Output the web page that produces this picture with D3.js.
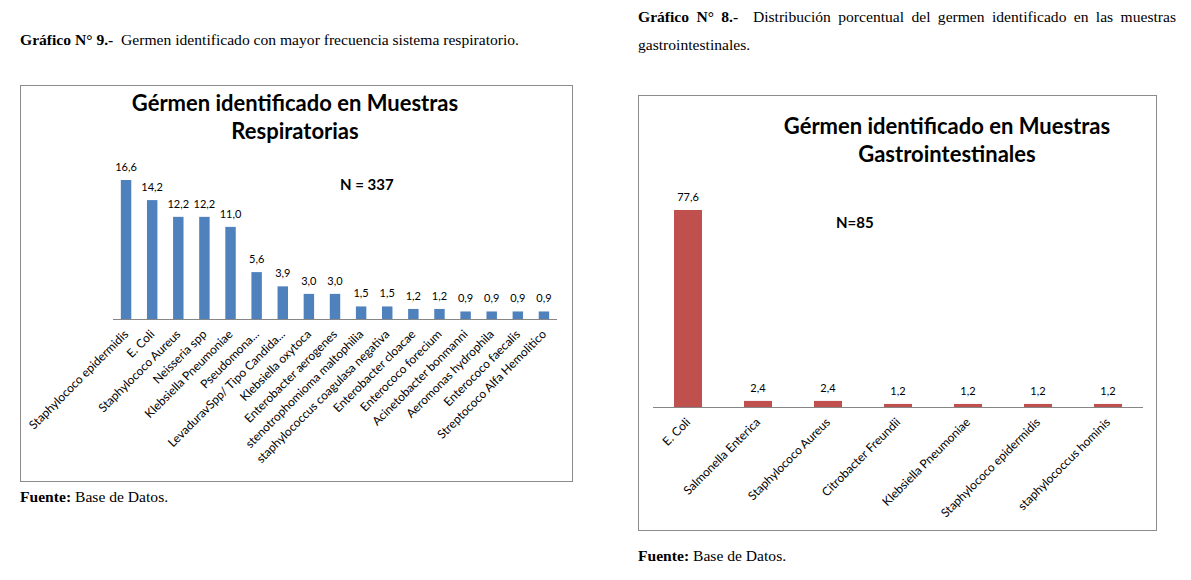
<!DOCTYPE html>
<html><head><meta charset="utf-8">
<script src="https://cdn.jsdelivr.net/npm/d3@7"></script>
<style>
body{margin:0;background:#fff;}
svg{display:block;}
</style></head>
<body>
<svg id="c" width="1191" height="580"></svg>
<script>
const respCategories = ["Staphylococo epidermidis","E. Coli","Staphylococo Aureus","Neisseria spp","Klebsiella Pneumoniae","Pseudomona...","LevaduravSpp/ Tipo Candida...","Klebsiella oxytoca","Enterobacter aerogenes","stenotrophomioma maltophilia","staphylococcus coagulasa negativa","Enterobacter cloacae","Enterococo forecium","Acinetobacter bonmanni","Aeromonas hydrophila","Enterococo faecalis","Streptococo Alfa Hemolitico"];
const respValues = [16.6,14.2,12.2,12.2,11.0,5.6,3.9,3.0,3.0,1.5,1.5,1.2,1.2,0.9,0.9,0.9,0.9];
const gastroCategories = ["E. Coli","Salmonella Enterica","Staphylococo Aureus","Citrobacter Freundii","Klebsiella Pneumoniae","Staphylococo epidermidis","staphylococcus hominis"];
const gastroValues = [77.6,2.4,2.4,1.2,1.2,1.2,1.2];

const svg = d3.select("#c");
const fmt = v => v.toFixed(1).replace(".", ",");
const chartFont = "Lato, 'Open Sans', sans-serif";
const serif = "'Liberation Serif', 'Times New Roman', serif";

function caption(x, y, bold, rest, justifyTo) {
  const t = svg.append("text").attr("x", x).attr("y", y)
    .style("font-family", serif).style("font-size", "15.6px").style("white-space", "pre").attr("fill", "#000");
  if (bold) t.append("tspan").style("font-weight", "bold").text(bold);
  t.append("tspan").text(rest);
  if (justifyTo) {
    const full = (bold || "") + rest;
    const spaces = (full.match(/ /g) || []).length;
    const len = t.node().getComputedTextLength();
    t.style("word-spacing", ((justifyTo - x - len) / spaces) + "px");
  }
}

function chart(o) {
  svg.append("rect").attr("x", o.box[0] + 0.5).attr("y", o.box[1] + 0.5)
    .attr("width", o.box[2]).attr("height", o.box[3])
    .attr("fill", "#fff").attr("stroke", "#8c8c8c").attr("stroke-width", 1);
  const x = d3.scaleBand().domain(o.cats).range([o.x0, o.x1]).paddingInner(o.pad).paddingOuter(o.pad / 2);
  const y = d3.scaleLinear().domain([0, o.ymax]).range([o.base, o.top]);
  const g = svg.append("g");
  g.selectAll("rect.bar").data(o.vals).join("rect").attr("class", "bar")
    .attr("x", (d, i) => x(o.cats[i])).attr("width", x.bandwidth())
    .attr("y", d => y(d)).attr("height", d => o.base - y(d)).attr("fill", o.color);
  g.selectAll("text.val").data(o.vals).join("text").attr("class", "val")
    .attr("x", (d, i) => x(o.cats[i]) + x.bandwidth() / 2).attr("y", d => y(d) - 9)
    .attr("text-anchor", "middle").style("font-family", chartFont).style("font-size", "11px")
    .attr("fill", "#000").text(fmt);
  const ax = g.append("g").attr("transform", `translate(0,${o.base})`)
    .call(d3.axisBottom(x).tickSize(0).tickPadding(0));
  ax.select(".domain").attr("stroke", "#868686").attr("d", `M${o.x0},0.5H${o.x1}`);
  ax.selectAll(".tick text").attr("transform", "translate(3,16) rotate(-45)")
    .attr("text-anchor", "end").attr("dy", 0).attr("dx", 0).attr("y", 0)
    .style("font-family", chartFont).style("font-size", o.labelSize).attr("fill", "#000");
  o.title.forEach((t, i) => {
    svg.append("text").attr("x", o.titleX).attr("y", o.titleY + i * 28).attr("text-anchor", "middle")
      .style("font-family", chartFont).style("font-weight", "bold").style("font-size", "22px")
      .attr("fill", "#000").text(t);
  });
  svg.append("text").attr("x", o.nPos[0]).attr("y", o.nPos[1])
    .style("font-family", chartFont).style("font-weight", "bold").style("font-size", "15px")
    .attr("fill", "#000").text(o.nText);
}

caption(20, 45, "Gráfico N° 9.-", "  Germen identificado con mayor frecuencia sistema respiratorio.");
caption(20, 502, "Fuente:", " Base de Datos.");
caption(638, 22, "Gráfico N° 8.-", "  Distribución porcentual del germen identificado en las muestras", 1176);
caption(638, 50, "", "gastrointestinales.");
caption(638, 561, "Fuente:", " Base de Datos.");

chart({box: [20, 85, 552, 396], cats: respCategories, vals: respValues, x0: 113, x1: 557, pad: 0.6,
  base: 319, top: 180, ymax: 16.6, color: "#4F81BD", labelSize: "12px",
  title: ["Gérmen identificado en Muestras", "Respiratorias"], titleX: 295, titleY: 111,
  nText: "N = 337", nPos: [340, 190]});

chart({box: [638, 95, 518, 435], cats: gastroCategories, vals: gastroValues, x0: 653, x1: 1143, pad: 0.6,
  base: 407, top: 210, ymax: 77.6, color: "#C0504D", labelSize: "12px",
  title: ["Gérmen identificado en Muestras", "Gastrointestinales"], titleX: 947, titleY: 134,
  nText: "N=85", nPos: [836, 228]});
</script>
</body></html>
